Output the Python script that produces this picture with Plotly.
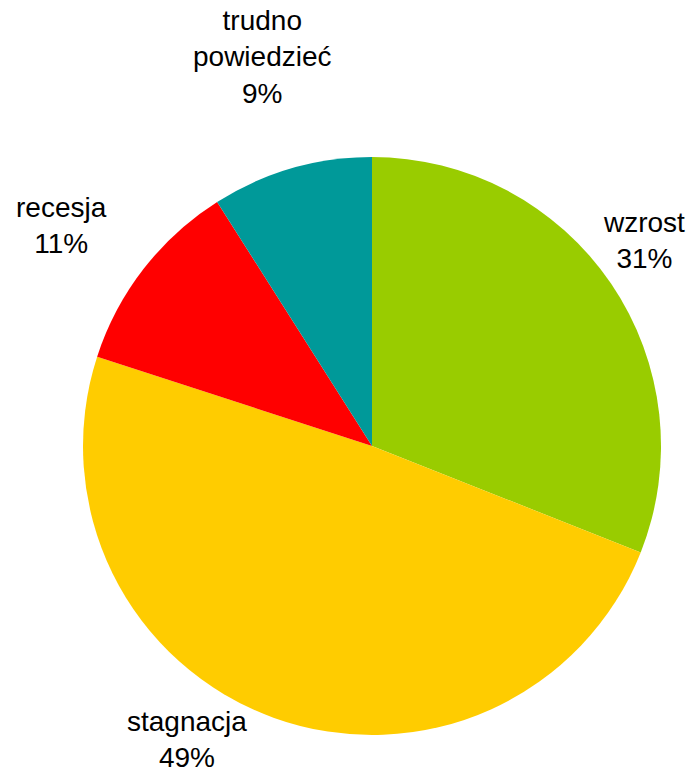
import plotly.graph_objects as go

labels = ["wzrost", "stagnacja", "recesja", "trudno<br>powiedzieć"]
values = [31, 49, 11, 9]
colors = ["#99CC00", "#FFCC00", "#FF0000", "#009999"]

W, H = 692, 771

# label centres in pixels (layout only)
label_pos = [(644, 240), (187, 739), (61, 225), (262, 57)]

fig = go.Figure()
fig.add_trace(go.Pie(
    labels=labels,
    values=values,
    sort=False,
    direction="clockwise",
    rotation=0,
    marker=dict(colors=colors, line=dict(width=0)),
    textinfo="none",
    hoverinfo="label+percent",
    domain=dict(x=[83 / W, 661 / W], y=[1 - 735 / H, 1 - 157 / H]),
    showlegend=False,
))

total = sum(values)
for lab, val, (px, py) in zip(labels, values, label_pos):
    fig.add_annotation(
        text=f"{lab}<br>{round(val / total * 100)}%",
        x=px / W, y=1 - py / H, xref="paper", yref="paper",
        xanchor="center", yanchor="middle", showarrow=False,
        font=dict(family="Liberation Sans, Arial, sans-serif", size=28, color="#000000"),
    )

fig.update_layout(
    width=W, height=H,
    margin=dict(l=0, r=0, t=0, b=0),
    paper_bgcolor="white",
    plot_bgcolor="white",
)

fig.write_html("out.html", config={"displayModeBar": False},
               post_script="document.body.style.margin='0';")
